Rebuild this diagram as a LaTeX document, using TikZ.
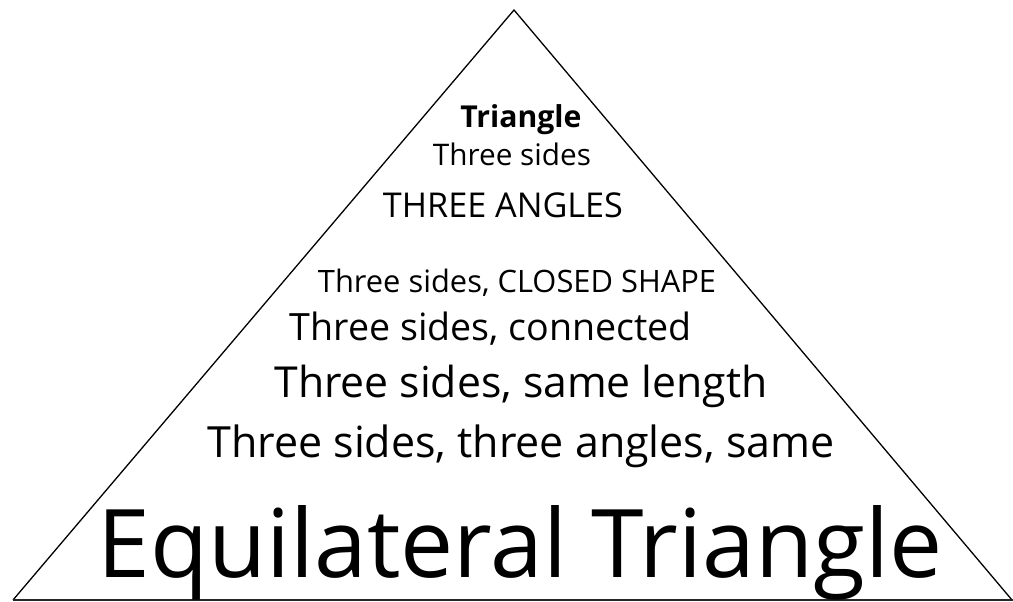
\documentclass[tikz,border=0pt]{standalone}
\usepackage{fontspec}
\setmainfont{Open Sans}
\usepackage{graphicx}
\tikzset{
  lbl/.style={anchor=base, inner sep=0pt, outer sep=0pt},
  edge/.style={draw=black, line width=1.4pt, line join=miter}
}
\newcommand{\fitw}[2]{\resizebox{#1pt}{!}{#2}}
\begin{document}
\begin{tikzpicture}[x=1pt,y=-1pt]
\useasboundingbox (0,0) rectangle (1013,602);
\coordinate (L) at (13,600);
\coordinate (A) at (514,10);
\coordinate (R) at (1012,600);
\draw[line width=1.3pt] (L) -- (A) -- (R);
\draw[line width=2.4pt, draw=black!85] (13,600) -- (1013,600);
\node[lbl] (t1) at (521,127) {\fitw{121}{\bfseries Triangle}};
\node[lbl] (t2) at (512,165) {\fitw{158}{Three sides}};
\node[lbl] (t3) at (503,217) {\fitw{240}{THREE ANGLES}};
\node[lbl] (t4) at (517,292) {\fitw{398}{Three sides, CLOSED SHAPE}};
\node[lbl] (t5) at (491,340) {\fitw{402}{Three sides, connected}};
\node[lbl] (t6) at (521,397) {\fitw{493}{Three sides, same length}};
\node[lbl] (t7) at (521,457) {\fitw{627}{Three sides, three angles, same}};
\node[lbl] (t8) at (520,577) {\fitw{844}{Equilateral Triangle}};
\end{tikzpicture}
\end{document}
